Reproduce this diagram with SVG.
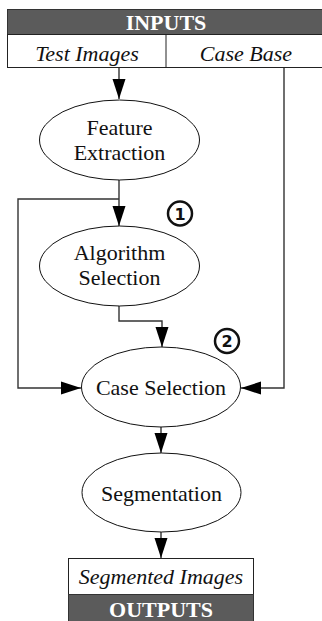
<svg xmlns="http://www.w3.org/2000/svg" width="322" height="621" viewBox="0 0 322 621">
<style>
.bar{fill:#5b5b5b;stroke:#333;stroke-width:1}
.box{fill:#fff;stroke:#222;stroke-width:1}
.node{fill:#fff;stroke:#111;stroke-width:1}
.lbl{font-size:22px;fill:#111;text-anchor:middle}
.it{font-style:italic}
.hdr{font-size:22px;font-weight:bold;fill:#fff;text-anchor:middle}
.num{font-size:16px;font-weight:bold;fill:#111;text-anchor:middle}
.ring{fill:#fff;stroke:#111;stroke-width:2.5}
.conn{fill:none;stroke:#333;stroke-width:1.4}
</style>
<defs>
<marker id="ah" markerUnits="userSpaceOnUse" markerWidth="20" markerHeight="14" refX="20" refY="7" orient="auto" viewBox="0 0 20 14">
<path d="M0,0.5 L20,7 L0,13.5 z" fill="#000"/>
</marker>
</defs>
<g font-family="Liberation Serif, Times New Roman, serif">
<g id="inputs">
<rect class="bar" x="7.5" y="9.5" width="320" height="25"/>
<text class="hdr" x="166" y="30">INPUTS</text>
<rect class="box" x="7.5" y="34.5" width="320" height="33"/>
<line x1="166" y1="34.5" x2="166" y2="67.5" stroke="#222" stroke-width="1"/>
<text class="lbl it" x="87" y="61">Test Images</text>
<text class="lbl it" x="246" y="61">Case Base</text>
</g>
<g id="connectors">
<path class="conn" d="M119,68 V99" marker-end="url(#ah)"/>
<path class="conn" d="M119,180 V226" marker-end="url(#ah)"/>
<path class="conn" d="M119,199 H18 V388 H81" marker-end="url(#ah)"/>
<path class="conn" d="M119,306 V321 H162 V347" marker-end="url(#ah)"/>
<path class="conn" d="M284,68 V388 H241" marker-end="url(#ah)"/>
<path class="conn" d="M161,427 V453" marker-end="url(#ah)"/>
<path class="conn" d="M161,532 V558" marker-end="url(#ah)"/>
</g>
<g id="feature-extraction">
<ellipse class="node" cx="119.5" cy="140" rx="80" ry="40"/>
<text class="lbl" x="119.5" y="135">Feature</text>
<text class="lbl" x="119.5" y="160">Extraction</text>
</g>
<g id="marker-1">
<circle class="ring" cx="180" cy="213.5" r="12"/>
<text class="num" x="180" y="219.5" font-family="DejaVu Sans, sans-serif">1</text>
</g>
<g id="algorithm-selection">
<ellipse class="node" cx="119.5" cy="266" rx="80" ry="40"/>
<text class="lbl" x="119.5" y="260">Algorithm</text>
<text class="lbl" x="119.5" y="285">Selection</text>
</g>
<g id="marker-2">
<circle class="ring" cx="227" cy="341" r="12"/>
<text class="num" x="227" y="347" font-family="DejaVu Sans, sans-serif">2</text>
</g>
<g id="case-selection">
<ellipse class="node" cx="161" cy="387" rx="79.5" ry="40"/>
<text class="lbl" x="161" y="395">Case Selection</text>
</g>
<g id="segmentation">
<ellipse class="node" cx="161.5" cy="492.5" rx="79.5" ry="39.5"/>
<text class="lbl" x="161.5" y="501">Segmentation</text>
</g>
<g id="outputs">
<rect class="box" x="68.5" y="558.5" width="185" height="36"/>
<text class="lbl it" x="161" y="584">Segmented Images</text>
<rect class="bar" x="68.5" y="594.5" width="185" height="30"/>
<text class="hdr" x="161" y="617">OUTPUTS</text>
</g>
</g>
</svg>
